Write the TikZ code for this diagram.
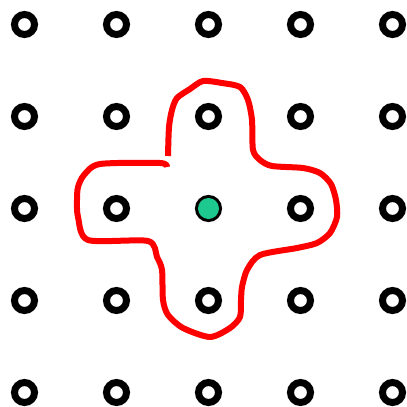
\documentclass[tikz,border=0pt]{standalone}
\usepackage{tikz}
\usetikzlibrary{calc}
\definecolor{loopC}{RGB}{255, 0, 0}
\definecolor{dotC}{RGB}{29, 201, 143}

\begin{document}
\begin{tikzpicture}[x=1pt, y=-1pt,
    ring/.style={circle, draw=black, line width=7pt, minimum size=20pt, inner sep=0pt}]
  \useasboundingbox (0,0) rectangle (407,407);

  % lattice points
  \foreach \i in {0,...,4}
    \foreach \j in {0,...,4}
      \node[ring] (p-\i-\j) at ({24.5+92*\i}, {24.5+92*\j}) {};

  % centre point
  \fill[dotC] (p-2-2.center) circle (10.5pt);

  % the loop round it
  \draw[loopC, line width=6pt, line join=round] plot[smooth, tension=0.45] coordinates {
    (168,156) (169,127) (172,110) (177,98) (190,89) (203,81) (222,83)
    (240,87) (248,100) (252,120) (253,150) (260,160) (272,166) (303,168)
    (320,173) (331,184) (336,200) (337,217) (330,233) (317,243) (297,248)
    (260,255) (247,270) (242,287) (241,300) (240,317) (230,328) (210,337)
    (183,328) (168,315) (163,300) (162,270) (157,257) (148,241) (88,240)
    (78,217) (77,200) (78,187) (84,175) (100,164) (160,163) (167,167)};
\end{tikzpicture}
\end{document}
